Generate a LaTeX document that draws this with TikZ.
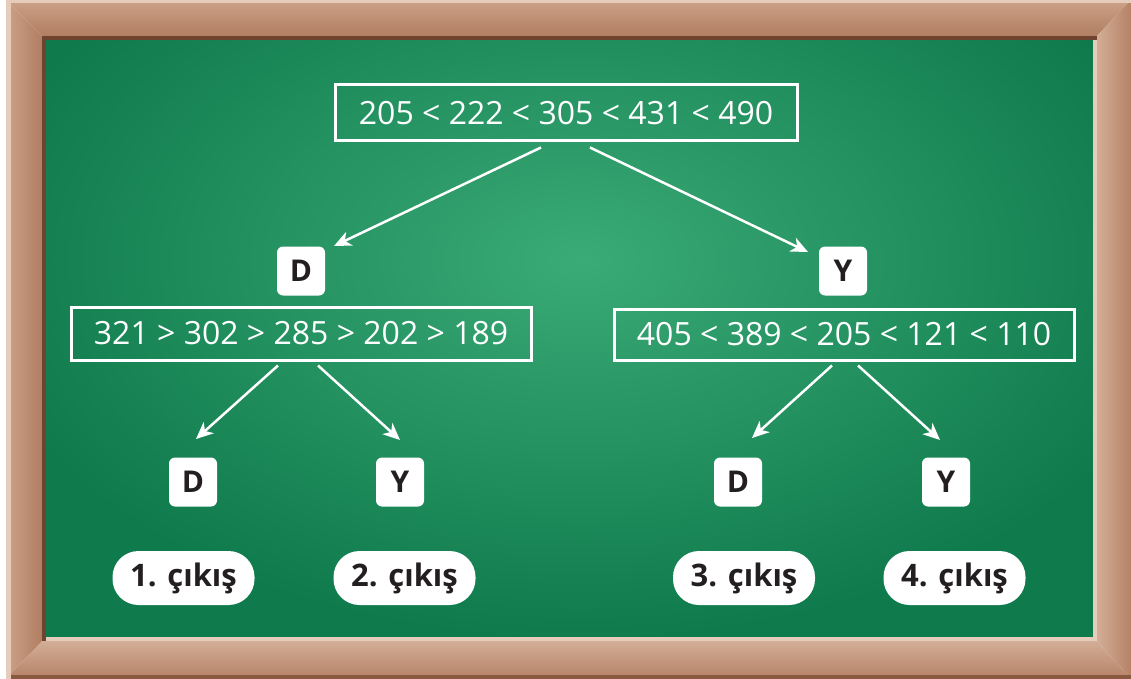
\documentclass[tikz,border=0pt]{standalone}
\usepackage{fontspec}
\setmainfont{Open Sans}
\usetikzlibrary{calc,arrows.meta}
\definecolor{boardin}{HTML}{3AAA76}
\definecolor{boardout}{HTML}{0F7A4C}
\definecolor{txtdark}{HTML}{231F20}
\definecolor{woodA}{HTML}{CDA288}
\definecolor{woodB}{HTML}{AE7A5D}
\definecolor{woodC}{HTML}{D6B29C}
\definecolor{woodD}{HTML}{B58266}
\definecolor{woodEdge}{HTML}{8A5A40}
\definecolor{woodLight}{HTML}{E6CCBB}
\definecolor{woodShadow}{HTML}{6E4430}
\begin{document}
\begin{tikzpicture}[x=1pt,y=-1pt,
  numbox/.style={draw=white,line width=3pt,text=white,inner sep=0pt,font=\fontsize{32}{34}\selectfont},
  lab/.style={fill=white,rounded corners=6pt,minimum width=48pt,minimum height=49pt,inner sep=0pt,text=txtdark,font=\fontsize{30}{31}\selectfont\bfseries},
  pill/.style={fill=white,rounded corners=26pt,minimum width=142pt,minimum height=54pt,inner sep=0pt,text=txtdark,font=\fontsize{31}{32}\selectfont\bfseries},
  arr/.style={draw=white,line width=2.5pt,-{Stealth[length=17pt,width=15pt,inset=5pt]}}]
\useasboundingbox (0,0) rectangle (1131,679);
% frame
\shade[top color=woodA,bottom color=woodB] (6,0) -- (1131,0) -- (1093,40) -- (46,40) -- cycle;
\shade[left color=woodA,right color=woodB] (6,0) -- (46,40) -- (46,637) -- (6,679) -- cycle;
\shade[left color=woodC,right color=woodD] (1131,0) -- (1131,679) -- (1093,637) -- (1093,40) -- cycle;
\shade[top color=woodC,bottom color=woodD] (6,679) -- (46,637) -- (1093,637) -- (1131,679) -- cycle;
\fill[woodEdge] (6,675) rectangle (1131,679);
\fill[woodLight] (6,0) rectangle (11,679);
\fill[woodLight] (6,0) rectangle (1131,3);
% board
\begin{scope}
\clip (46,40) rectangle (1093,637);
\shade[inner color=boardin,outer color=boardout] (-40,-120) rectangle (1200,640);
\end{scope}
\fill[woodShadow] (42,36) rectangle (1097,40);
\fill[woodShadow] (42,36) rectangle (46,641);
\fill[woodLight] (46,637) rectangle (1097,641);
\fill[woodLight] (1093,40) rectangle (1097,641);
% boxes
\node[numbox,minimum width=462pt,minimum height=56pt] (top) at (566,113) {205 < 222 < 305 < 431 < 490};
\node[numbox,minimum width=460pt,minimum height=53pt] (lbox) at (301,333.5) {321 > 302 > 285 > 202 > 189};
\node[numbox,minimum width=460pt,minimum height=51pt] (rbox) at (844,334.5) {405 < 389 < 205 < 121 < 110};
% labels
\node[lab] (D1) at (301,271) {D};
\node[lab] (Y1) at (843,271) {Y};
\node[lab] (D2) at (193,482) {D};
\node[lab] (Y2) at (400,482) {Y};
\node[lab] (D3) at (738,482) {D};
\node[lab] (Y3) at (946,482) {Y};
% outputs
\node[pill] (P1) at (183.5,578) {1. çıkış};
\node[pill] (P2) at (404.5,578) {2. çıkış};
\node[pill] (P3) at (744,578) {3. çıkış};
\node[pill] (P4) at (954.5,578) {4. çıkış};
% arrow ends
\coordinate (t1) at ($(top.south)+(-25,5)$);
\coordinate (t2) at ($(top.south)+(24,5)$);
\coordinate (d1) at ($(D1)+(33,-25)$);
\coordinate (y1) at ($(Y1)+(-35,-19)$);
\coordinate (l1) at ($(lbox.south)+(-23,4)$);
\coordinate (l2) at ($(lbox.south)+(17,4)$);
\coordinate (d2) at ($(D2)+(3,-43)$);
\coordinate (y2) at ($(Y2)+(0,-42)$);
\coordinate (r1) at ($(rbox.south)+(-12,4)$);
\coordinate (r2) at ($(rbox.south)+(14,4)$);
\coordinate (d3) at ($(D3)+(14,-44)$);
\coordinate (y3) at ($(Y3)+(-6,-42)$);
\draw[arr] (t1) -- (d1);
\draw[arr] (t2) -- (y1);
\draw[arr] (l1) -- (d2);
\draw[arr] (l2) -- (y2);
\draw[arr] (r1) -- (d3);
\draw[arr] (r2) -- (y3);
\end{tikzpicture}
\end{document}
